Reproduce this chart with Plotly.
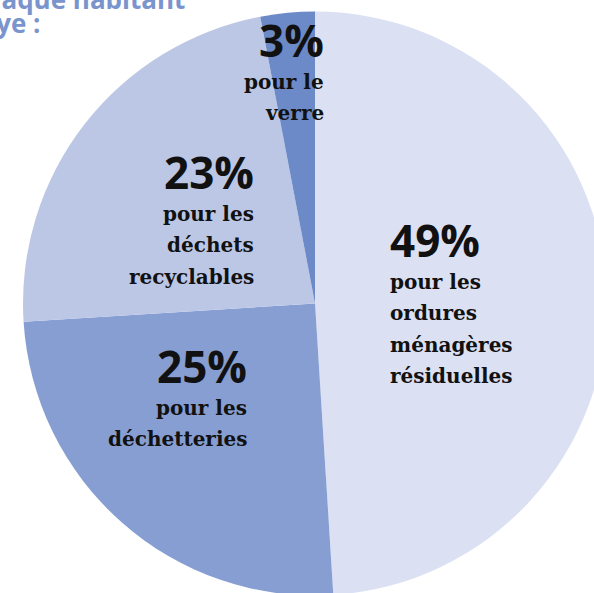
import plotly.graph_objects as go

# ---- data ----
categories = ["ordures ménagères résiduelles", "déchetteries", "déchets recyclables", "verre"]
values = [49, 25, 23, 3]
label_lines = [
    ["pour les", "ordures", "ménagères", "résiduelles"],
    ["pour les", "déchetteries"],
    ["pour les", "déchets", "recyclables"],
    ["pour le", "verre"],
]
title_lines = ["chaque habitant", "paye :"]

# ---- styles ----
slice_colors = ["#DBE0F3", "#879ED2", "#BCC7E6", "#6C8AC7"]
title_color = "#7A94CD"
W, H = 620, 600

# label anchor positions in pixels: (x, xanchor, baseline of percent)
label_pos = [(389, "left", 257), (248, "right", 383), (255, "right", 189), (325, "right", 57)]
line_step = 31.5
pct_size, txt_size = 44, 20

def px(x):
    return x / W

def py(y):
    return 1 - y / H

fig = go.Figure(
    go.Pie(
        labels=categories,
        values=values,
        sort=False,
        direction="clockwise",
        rotation=0,
        marker=dict(colors=slice_colors, line=dict(width=0)),
        textinfo="none",
        hoverinfo="label+percent",
        showlegend=False,
        domain=dict(x=[px(23), px(607)], y=[py(596), py(11)]),
    )
)

annotations = []
for v, lines, (x, anchor, base) in zip(values, label_lines, label_pos):
    annotations.append(dict(
        text=f"{v}%", x=px(x), y=py(base - 0.388 * pct_size),
        xref="paper", yref="paper", xanchor=anchor, yanchor="middle",
        showarrow=False, align=anchor, borderpad=0,
        font=dict(family="Open Sans", size=pct_size, color="#111111", weight=700),
    ))
    for i, ln in enumerate(lines):
        b = base + line_step * (i + 1)
        annotations.append(dict(
            text=ln, x=px(x), y=py(b - 0.346 * txt_size),
            xref="paper", yref="paper", xanchor=anchor, yanchor="middle",
            showarrow=False, align=anchor, borderpad=0,
            font=dict(family="DejaVu Serif", size=txt_size, color="#111111", weight=700),
        ))

title_pos = [(186, 9), (41, 33)]
for t, (x, base) in zip(title_lines, title_pos):
    annotations.append(dict(
        text=t, x=px(x), y=py(base - 0.388 * 26),
        xref="paper", yref="paper", xanchor="right", yanchor="middle",
        showarrow=False, borderpad=0,
        font=dict(family="Open Sans", size=26, color=title_color, weight=700),
    ))

fig.update_layout(
    width=W, height=H,
    margin=dict(l=0, r=0, t=0, b=0),
    paper_bgcolor="white", plot_bgcolor="white",
    annotations=annotations,
)

fig.write_html(
    "out.html",
    post_script="document.documentElement.style.overflow='hidden';"
                "document.body.style.overflow='hidden';document.body.style.margin='0';",
)
